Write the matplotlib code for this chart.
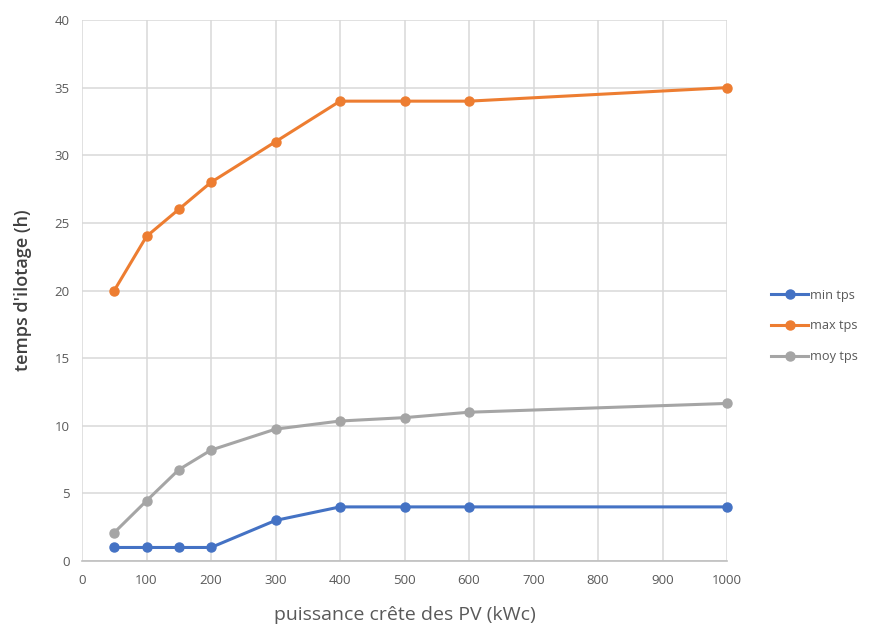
import matplotlib
matplotlib.use("Agg")
import matplotlib.pyplot as plt

# Puissance crête installée (kWc) et temps d'îlotage (h)
puissance = [50, 100, 150, 200, 300, 400, 500, 600, 1000]
min_tps = [1, 1, 1, 1, 3, 4, 4, 4, 4]
max_tps = [20, 24, 26, 28, 31, 34, 34, 34, 35]
moy_tps = [2.1, 4.45, 6.75, 8.2, 9.75, 10.35, 10.6, 11.0, 11.65]

x_ticks = list(range(0, 1001, 100))
y_ticks = list(range(0, 41, 5))

plt.rcParams['font.family'] = ['Open Sans', 'DejaVu Sans']

fig = plt.figure(figsize=(8.69, 6.27), dpi=100)
ax = fig.add_axes([82 / 869, 1 - 561 / 627, (727 - 82) / 869, (561 - 20) / 627])

series = [
    ("min tps", min_tps, "#4472C4"),
    ("max tps", max_tps, "#ED7D31"),
    ("moy tps", moy_tps, "#A5A5A5"),
]
for label, values, color in series:
    ax.plot(puissance, values, color=color, linewidth=2.2, marker="o",
            markersize=6.5, label=label, zorder=3, clip_on=False)

ax.set_xlim(0, 1000)
ax.set_ylim(0, 40)
ax.set_xticks(x_ticks)
ax.set_yticks(y_ticks)
ax.grid(True, color="#D9D9D9", linewidth=1.1, zorder=0)
ax.set_axisbelow(True)
for side in ["top", "right", "left"]:
    ax.spines[side].set_visible(False)
ax.spines["bottom"].set_color("#BFBFBF")
ax.spines["bottom"].set_linewidth(1.2)
ax.tick_params(axis="both", length=0, labelsize=9.5, labelcolor="#595959", pad=9)

ax.set_xlabel("puissance crête des PV (kWc)", fontsize=14, color="#595959", labelpad=14)
ax.set_ylabel("temps d'ilotage (h)", fontsize=13, color="#404040",
              fontweight="semibold", labelpad=16)

fig.legend(loc="center left", bbox_to_anchor=(771 / 869, 1 - 326 / 627),
           frameon=False, fontsize=9.2, labelcolor="#595959",
           handlelength=2.9, handletextpad=0.15, labelspacing=1.4,
           borderaxespad=0, borderpad=0)

fig.savefig("out.png", dpi=100, facecolor="white")
